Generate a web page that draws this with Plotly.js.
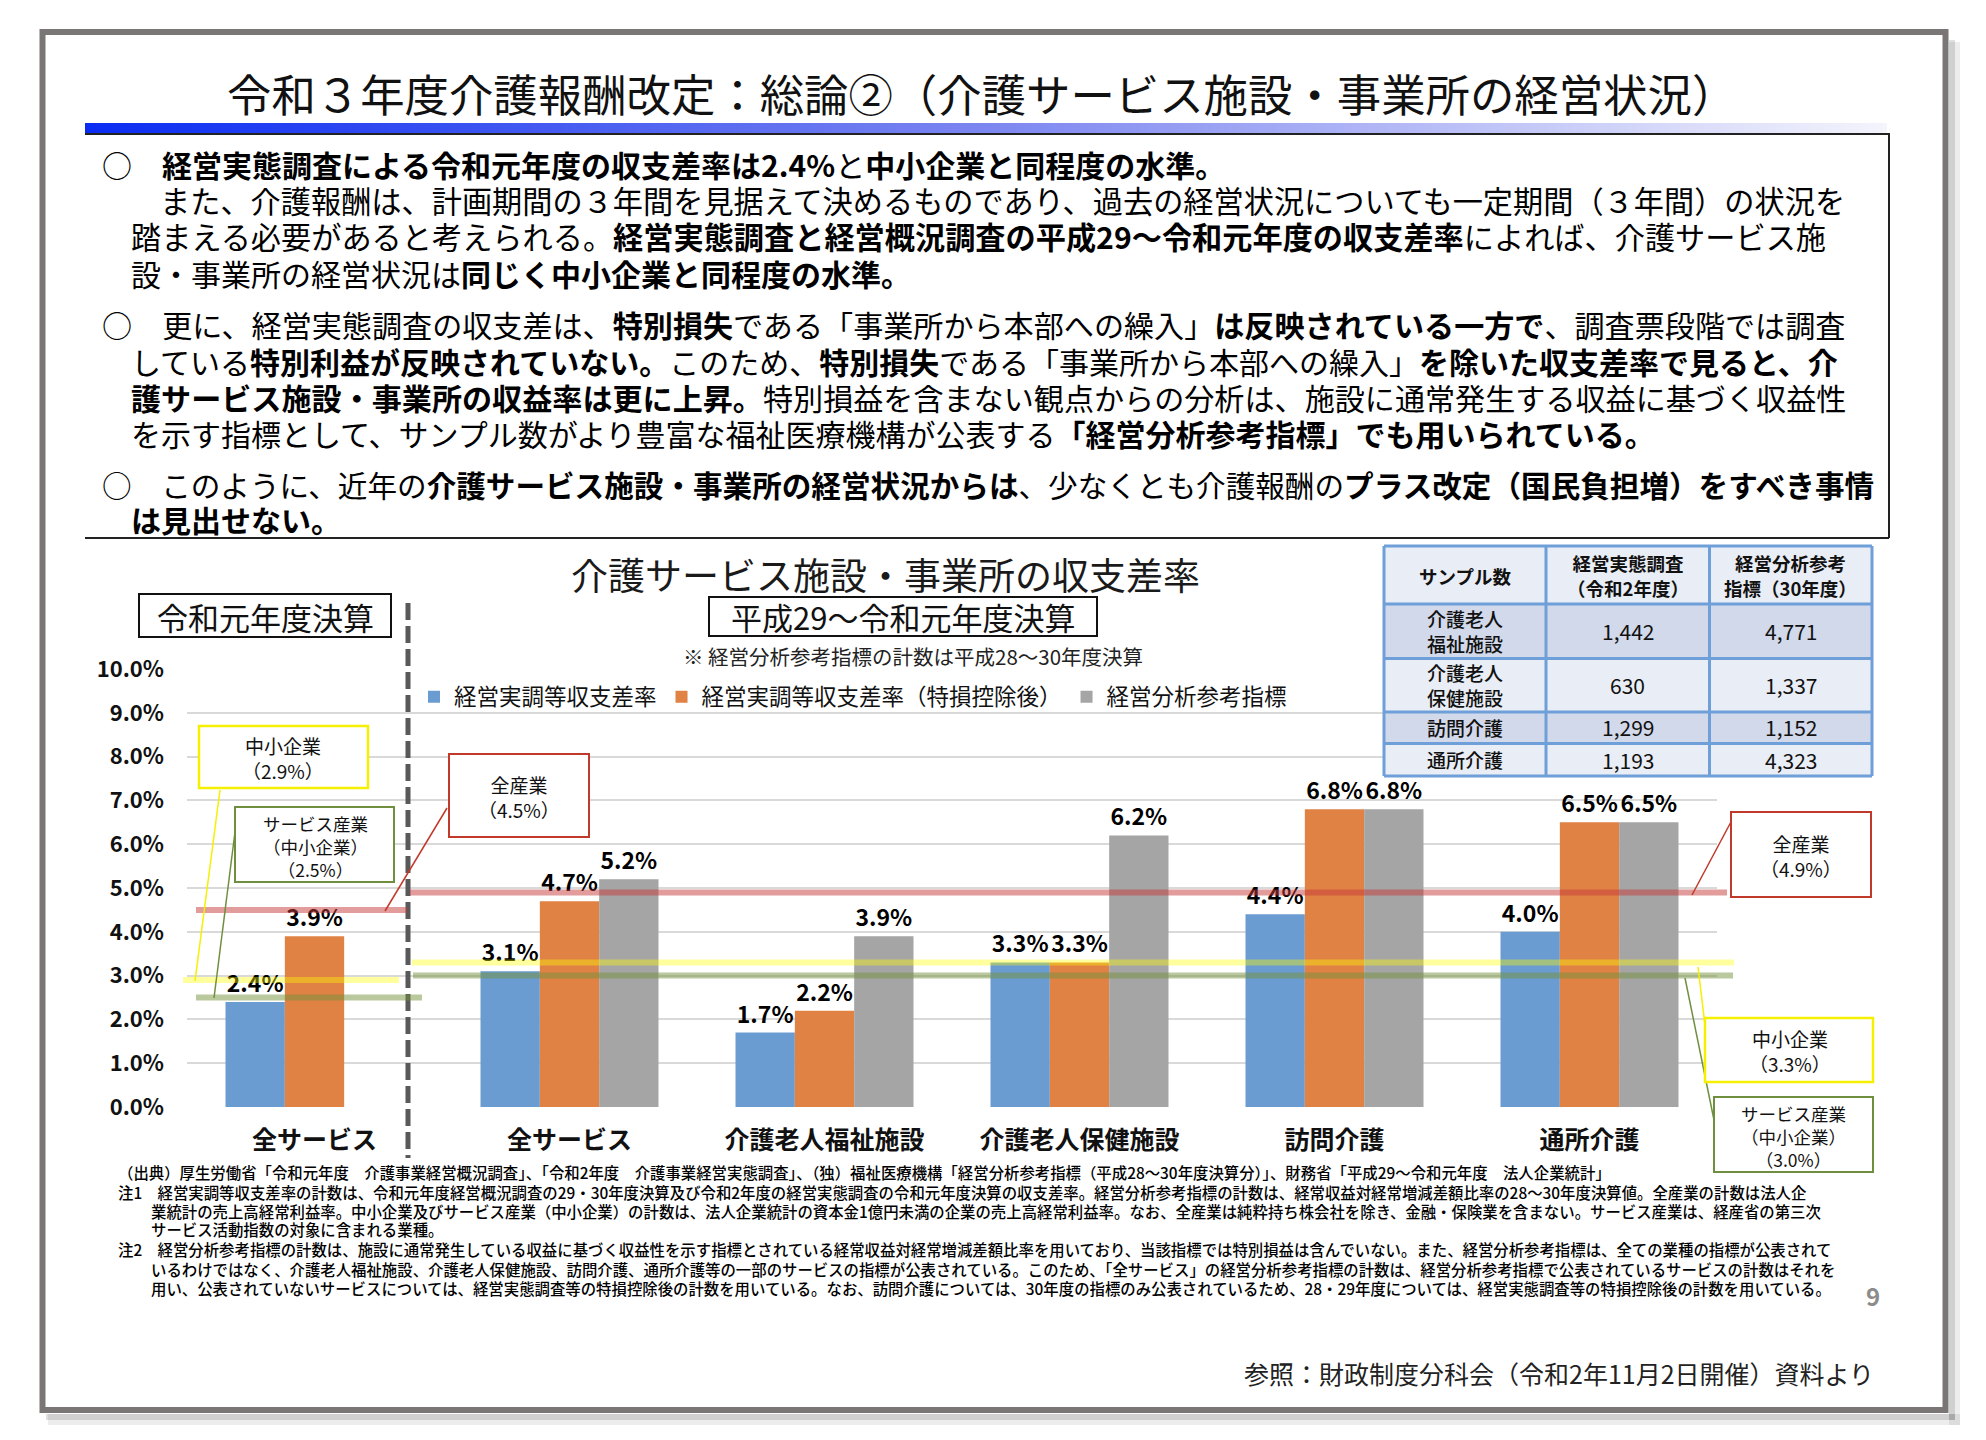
<!DOCTYPE html>
<html><head><meta charset="utf-8">
<script src="https://cdn.plot.ly/plotly-3.0.1.min.js"></script>
<style>html,body{margin:0;padding:0;background:#fff;}#chart{width:1986px;height:1440px;}</style>
</head><body><div id="chart"></div>
<script>
// ---------------- DATA ----------------
const categories = ['全サービス','全サービス','介護老人福祉施設','介護老人保健施設','訪問介護','通所介護'];
const seriesNames = ['経営実調等収支差率','経営実調等収支差率（特損控除後）','経営分析参考指標'];
const surveyRate = [2.4, 3.1, 1.7, 3.3, 4.4, 4.0];
const surveyRateExSpecial = [3.9, 4.7, 2.2, 3.3, 6.8, 6.5];
const referenceIndicator = [null, 5.2, 3.9, 6.2, 6.8, 6.5];
const seriesColors = ['#6a9bd1', '#df8244', '#a5a5a5'];

// benchmark levels: [中小企業, サービス産業（中小企業）, 全産業]
const benchNames = ['中小企業', 'サービス産業<br>（中小企業）', '全産業'];
const benchR1 = [2.9, 2.5, 4.5];      // 令和元年度決算
const benchH29R1 = [3.3, 3.0, 4.9];   // 平成29～令和元年度決算

// sample-size table
const tableHeader = ['サンプル数', '経営実態調査<br>（令和2年度）', '経営分析参考<br>指標（30年度）'];
const tableRowLabels = ['介護老人<br>福祉施設', '介護老人<br>保健施設', '訪問介護', '通所介護'];
const tableSurveyN = ['1,442', '630', '1,299', '1,193'];
const tableIndicatorN = ['4,771', '1,337', '1,152', '4,323'];

// texts
const slideTitle = '令和３年度介護報酬改定：総論②（介護サービス施設・事業所の経営状況）';
const chartTitle = '介護サービス施設・事業所の収支差率';
const periodLeft = '令和元年度決算';
const periodRight = '平成29～令和元年度決算';
const chartNote = '※ 経営分析参考指標の計数は平成28～30年度決算';
const bodyLines = [
  '○　<b>経営実態調査による令和元年度の収支差率は2.4%</b>と<b>中小企業と同程度の水準。</b>',
  'また、介護報酬は、計画期間の３年間を見据えて決めるものであり、過去の経営状況についても一定期間（３年間）の状況を',
  '踏まえる必要があると考えられる。<b>経営実態調査と経営概況調査の平成29～令和元年度の収支差率</b>によれば、介護サービス施',
  '設・事業所の経営状況は<b>同じく中小企業と同程度の水準。</b>',
  '○　更に、経営実態調査の収支差は、<b>特別損失</b>である「事業所から本部への繰入」<b>は反映されている一方で</b>、調査票段階では調査',
  'している<b>特別利益が反映されていない。</b>このため、<b>特別損失</b>である「事業所から本部への繰入」<b>を除いた収支差率で見ると、介</b>',
  '<b>護サービス施設・事業所の収益率は更に上昇。</b>特別損益を含まない観点からの分析は、施設に通常発生する収益に基づく収益性',
  'を示す指標として、サンプル数がより豊富な福祉医療機構が公表する<b>「経営分析参考指標」でも用いられている。</b>',
  '○　このように、近年の<b>介護サービス施設・事業所の経営状況からは</b>、少なくとも介護報酬の<b>プラス改定（国民負担増）をすべき事情</b>',
  '<b>は見出せない。</b>'
];
const noteLines = [
  '（出典）厚生労働省「令和元年度　介護事業経営概況調査」、「令和2年度　介護事業経営実態調査」、（独）福祉医療機構「経営分析参考指標（平成28～30年度決算分）」、財務省「平成29～令和元年度　法人企業統計」',
  '注1　経営実調等収支差率の計数は、令和元年度経営概況調査の29・30年度決算及び令和2年度の経営実態調査の令和元年度決算の収支差率。経営分析参考指標の計数は、経常収益対経常増減差額比率の28～30年度決算値。全産業の計数は法人企',
  '業統計の売上高経常利益率。中小企業及びサービス産業（中小企業）の計数は、法人企業統計の資本金1億円未満の企業の売上高経常利益率。なお、全産業は純粋持ち株会社を除き、金融・保険業を含まない。サービス産業は、経産省の第三次',
  'サービス活動指数の対象に含まれる業種。',
  '注2　経営分析参考指標の計数は、施設に通常発生している収益に基づく収益性を示す指標とされている経常収益対経常増減差額比率を用いており、当該指標では特別損益は含んでいない。また、経営分析参考指標は、全ての業種の指標が公表されて',
  'いるわけではなく、介護老人福祉施設、介護老人保健施設、訪問介護、通所介護等の一部のサービスの指標が公表されている。このため、「全サービス」の経営分析参考指標の計数は、経営分析参考指標で公表されているサービスの計数はそれを',
  '用い、公表されていないサービスについては、経営実態調査等の特損控除後の計数を用いている。なお、訪問介護については、30年度の指標のみ公表されているため、28・29年度については、経営実態調査等の特損控除後の計数を用いている。'
];
const sourceText = '参照：財政制度分科会（令和2年11月2日開催）資料より';
const pageNumber = '9';

// ---------------- LAYOUT HELPERS ----------------
const W = 1986, H = 1440;
const FONT = '"Noto Sans CJK JP", "Noto Sans", sans-serif';
const X = px => px / W;
const Y = py => 1 - py / H;
const shapes = [];
const annotations = [];
function rect(x0, y0, x1, y1, fill, lineColor, lineWidth, layer) {
  shapes.push({type:'rect', xref:'paper', yref:'paper', x0:X(x0), x1:X(x1), y0:Y(y0), y1:Y(y1),
    fillcolor: fill || 'rgba(0,0,0,0)', line:{color: lineColor || 'rgba(0,0,0,0)', width: lineWidth || 0}, layer: layer || 'above'});
}
function line(x0, y0, x1, y1, color, width, dash) {
  shapes.push({type:'line', xref:'paper', yref:'paper', x0:X(x0), x1:X(x1), y0:Y(y0), y1:Y(y1),
    line:{color, width, dash: dash || 'solid'}, layer:'above'});
}
function band(x0, x1, value, color) {
  shapes.push({type:'line', xref:'paper', yref:'y', x0:X(x0), x1:X(x1), y0:value, y1:value,
    line:{color, width:6}, layer:'above'});
}
function text(x, y, t, size, opts) {
  opts = opts || {};
  const a = {xref:'paper', yref:'paper', x:X(x), y:Y(y), text:t, showarrow:false,
    xanchor: opts.xanchor || 'center', yanchor:'middle', align: opts.align || 'center',
    font:{family:FONT, size, color: opts.color || '#111', weight: opts.weight || 'normal'}};
  if (opts.height) { a.height = opts.height; a.valign = 'middle'; }
  annotations.push(a);
}

// frame + shadow
rect(1949, 42, 1960, 1425, 'rgba(0,0,0,0.07)', null, 0, 'below');
rect(48, 1414, 1960, 1425, 'rgba(0,0,0,0.07)', null, 0, 'below');
rect(1949, 40, 1955, 1420, 'rgba(0,0,0,0.12)', null, 0, 'below');
rect(46, 1414, 1955, 1420, 'rgba(0,0,0,0.12)', null, 0, 'below');
rect(42.5, 32, 1945.5, 1410, null, '#7a7676', 6, 'below');

// title & header bar
text(981, 93, slideTitle, 44.4, {color:'#111'});
line(85, 134, 1889, 134, '#222', 2);
line(1889, 133, 1889, 538, '#222', 2);
line(85, 538, 1889, 538, '#222', 2);

// body text
const bodyY = [163, 200, 236, 272, 324, 360, 396, 433, 484, 519];
const bodyX = [100, 158, 129, 129, 100, 129, 129, 129, 100, 129];
const bodySize = [30, 30.2, 30.2, 30, 30.1, 30, 30.1, 30, 29.6, 30];
bodyLines.forEach((t, i) => text(bodyX[i], bodyY[i], t, bodySize[i], {xanchor:'left', color:'#000', height:35}));

// chart heading texts
text(885, 574, chartTitle, 37, {color:'#1a1a1a'});
rect(139, 594, 391, 637, '#fff', '#111', 2);
text(265, 616, periodLeft, 31, {color:'#111'});
rect(709, 597, 1097, 636, '#fff', '#111', 2);
text(903, 617, periodRight, 31, {color:'#111'});
text(913, 656, chartNote, 20.5, {color:'#222'});

// divider between the two periods
line(408, 603, 408, 1158, '#595959', 5, '17px,6px');

// benchmark bands
const bandColors = ['rgba(255,255,0,0.38)', 'rgba(118,146,60,0.5)', 'rgba(197,57,57,0.5)'];
const bandLeftX = [[183, 399], [196, 422], [196, 407]];
const bandRightX = [[412, 1734], [413, 1733], [410, 1727]];
benchR1.forEach((v, i) => band(bandLeftX[i][0], bandLeftX[i][1], v, bandColors[i]));
benchH29R1.forEach((v, i) => band(bandRightX[i][0], bandRightX[i][1], v, bandColors[i]));

// callouts
const calloutLine = ['#f5f000', '#6f8f3f', '#c0392b'];
const fmt = v => '（' + v.toFixed(1) + '%）';
// left period
line(220, 790, 195, 981, calloutLine[0], 1.5);
line(235, 832, 214, 998, calloutLine[1], 1.5);
line(447, 808, 385, 911, calloutLine[2], 1.5);
rect(199, 726, 368, 788, '#fff', calloutLine[0], 2.5);
text(283, 758, benchNames[0] + '<br>' + fmt(benchR1[0]), 19);
rect(235, 807, 394, 882, '#fff', calloutLine[1], 2);
text(315, 846, benchNames[1] + '<br>' + fmt(benchR1[1]), 17.5);
rect(449, 754, 589, 837, '#fff', calloutLine[2], 2);
text(519, 797, benchNames[2] + '<br>' + fmt(benchR1[2]), 19);
// right period
line(1732, 820, 1692, 895, calloutLine[2], 1.5);
line(1698, 967, 1705, 1025, calloutLine[0], 1.5);
line(1685, 978, 1714, 1120, calloutLine[1], 1.5);
rect(1731, 812, 1871, 897, '#fff', calloutLine[2], 2);
text(1801, 856, benchNames[2] + '<br>' + fmt(benchH29R1[2]), 19);
rect(1705, 1018, 1873, 1082, '#fff', calloutLine[0], 2.5);
text(1790, 1051, benchNames[0] + '<br>' + fmt(benchH29R1[0]), 19);
rect(1714, 1097, 1873, 1172, '#fff', calloutLine[1], 2);
text(1793, 1136, benchNames[1] + '<br>' + fmt(benchH29R1[1]), 17.5);

// sample table
const colX = [1384, 1546, 1709.5, 1872];
const rowY = [546, 604, 658.5, 712, 743.5, 776];
const rowFill = ['#e9edf5', '#d1d9ea', '#e9edf5', '#d1d9ea', '#e9edf5'];
for (let r = 0; r < 5; r++) rect(colX[0], rowY[r], colX[3], rowY[r + 1], rowFill[r], null, 0);
rowY.forEach(y => line(colX[0], y, colX[3], y, '#6f9fd8', 3));
colX.forEach(x => line(x, rowY[0], x, rowY[5], '#6f9fd8', 3));
function cellText(c, r, t, size, weight) {
  const cx = (colX[c] + colX[c + 1]) / 2, cy = (rowY[r] + rowY[r + 1]) / 2;
  text(cx, cy, t, size, {weight, color:'#111', height: rowY[r + 1] - rowY[r] - 3});
}
tableHeader.forEach((t, c) => cellText(c, 0, t, 18.5, 'bold'));
tableRowLabels.forEach((t, r) => {
  cellText(0, r + 1, t, 19, 500);
  cellText(1, r + 1, tableSurveyN[r], 21, 'normal');
  cellText(2, r + 1, tableIndicatorN[r], 21, 'normal');
});

// notes & footer
const noteY = [1172, 1192, 1211, 1229, 1249, 1269, 1288];
const noteX = [116, 116, 149, 149, 116, 149, 149];
noteLines.forEach((t, i) => text(noteX[i], noteY[i], t, 15.4, {xanchor:'left', color:'#000', weight:500, height:18}));
text(1873, 1295, pageNumber, 24, {color:'#8c8c8c', weight:'bold'});
text(1876, 1373, sourceText, 25, {xanchor:'right', color:'#222'});

// ---------------- TRACES ----------------
const xIdx = categories.map((_, i) => i);
const seriesValues = [surveyRate, surveyRateExSpecial, referenceIndicator];
const traces = seriesValues.map((vals, k) => ({
  type:'bar', x:xIdx, y:vals, name:seriesNames[k],
  marker:{color:seriesColors[k], line:{width:0}},
  texttemplate:'%{y:.1f}%', textposition:'outside', constraintext:'none', cliponaxis:false,
  textfont:{family:FONT, size:23, color:'#000', weight:'bold'},
  hoverinfo:'skip'
}));
// gradient decoration bar under the slide title
traces.push({type:'heatmap', xaxis:'x2', yaxis:'y2', z:[[0, 1]], x:[0, 1], y:[0], zsmooth:'best',
  showscale:false, hoverinfo:'skip', showlegend:false,
  colorscale:[[0, '#0a2cf2'], [0.5, '#7c86f0'], [1, '#f4f4fc']]});

const layout = {
  width:W, height:H, margin:{l:0, r:0, t:0, b:0},
  paper_bgcolor:'#fff', plot_bgcolor:'rgba(0,0,0,0)',
  font:{family:FONT, color:'#111'},
  barmode:'group', bargap:0.302, bargroupgap:0,
  showlegend:true,
  legend:{orientation:'h', x:X(414), y:Y(697), xanchor:'left', yanchor:'middle',
    font:{family:FONT, size:22.5, color:'#111'}, bgcolor:'rgba(0,0,0,0)', itemclick:false, itemdoubleclick:false},
  xaxis:{domain:[X(187), X(1717)], range:[-0.5, 5.5], tickvals:xIdx, ticktext:categories,
    showgrid:false, zeroline:false, showline:false, ticks:'', ticklabelstandoff:16,
    tickfont:{family:FONT, size:25, color:'#111', weight:'bold'}, fixedrange:true},
  yaxis:{domain:[Y(1107), Y(669)], range:[0, 10], tick0:0, dtick:1, tickformat:'.1f', ticksuffix:'%',
    showgrid:true, gridcolor:'#d9d9d9', gridwidth:2, zeroline:false, showline:false, ticks:'',
    ticklabelstandoff:22, tickfont:{family:FONT, size:22, color:'#111', weight:'bold'}, fixedrange:true},
  xaxis2:{domain:[X(85), X(1887)], range:[0, 1], visible:false, fixedrange:true},
  yaxis2:{domain:[Y(133), Y(123)], range:[-0.5, 0.5], visible:false, fixedrange:true},
  shapes, annotations
};
Plotly.newPlot('chart', traces, layout, {staticPlot:true, displayModeBar:false});
</script></body></html>
